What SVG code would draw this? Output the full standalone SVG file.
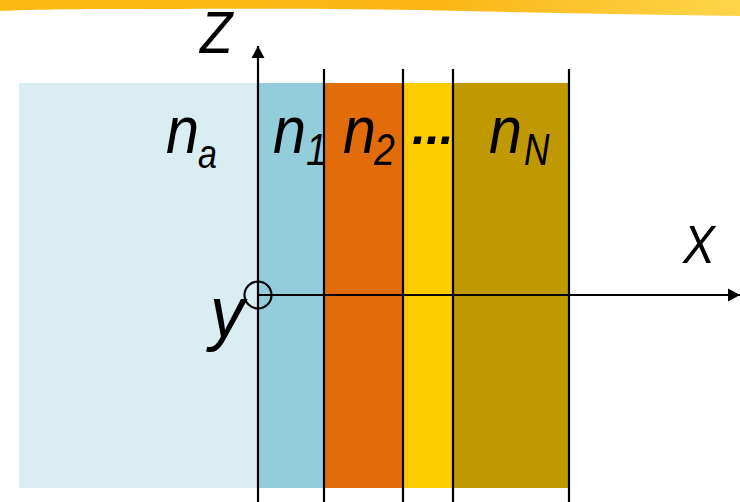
<svg xmlns="http://www.w3.org/2000/svg" width="740" height="502" viewBox="0 0 740 502">
<defs>
<linearGradient id="band" x1="0" y1="0" x2="1" y2="0">
<stop offset="0" stop-color="#FDB913"/>
<stop offset="0.6" stop-color="#FBB616"/>
<stop offset="1" stop-color="#FDD54A"/>
</linearGradient>
<marker id="arr" viewBox="0 0 12 14" refX="12" refY="7" markerWidth="12" markerHeight="14" markerUnits="userSpaceOnUse" orient="auto">
<path d="M0,0.5 L12,7 L0,13.5 z" fill="#000"/>
</marker>
</defs>
<style>
.t{font-family:"Liberation Sans",Arial,sans-serif;font-style:italic;fill:#000}
.b{stroke:#000;stroke-width:2.2;fill:none}
</style>
<path d="M0,0 H740 V16 C600,14 500,12 420,10 C300,8 200,9 120,9 C60,9 20,10 0,11 z" fill="url(#band)"/>
<g id="layers">
<rect id="layer-a" x="19" y="83" width="239" height="405" fill="#DAEDF3"/>
<rect id="layer-1" x="258" y="83" width="66" height="405" fill="#93CDDB"/>
<rect id="layer-2" x="324" y="83" width="79" height="405" fill="#E36C0A"/>
<rect id="layer-dots" x="403" y="83" width="50" height="405" fill="#FFCC00"/>
<rect id="layer-N" x="453" y="83" width="116" height="405" fill="#C09900"/>
</g>
<g id="connectors">
<line class="b" x1="324" y1="69" x2="324" y2="502"/>
<line class="b" x1="403" y1="69" x2="403" y2="502"/>
<line class="b" x1="453" y1="69" x2="453" y2="502"/>
<line class="b" x1="569" y1="69" x2="569" y2="502"/>
<line class="b" x1="258" y1="502" x2="258" y2="46" marker-end="url(#arr)"/>
<line class="b" x1="258" y1="295" x2="740" y2="295" marker-end="url(#arr)"/>
<circle class="b" cx="258" cy="295" r="13.5"/>
</g>
<g id="labels">
<text class="t" transform="translate(200,53) scale(0.9,1)" font-size="59">Z</text>
<text class="t" transform="translate(683,263) scale(0.9,1)" font-size="53">X</text>
<text class="t" transform="translate(210,337) scale(0.95,1)" font-size="72">y</text>
<text class="t" transform="translate(166,153) scale(0.9,1)" font-size="66">n</text>
<text class="t" transform="translate(198,168) scale(0.85,1)" font-size="40">a</text>
<text class="t" transform="translate(273,153) scale(0.9,1)" font-size="66">n</text>
<text class="t" transform="translate(306,165) scale(0.85,1)" font-size="44">1</text>
<text class="t" transform="translate(343,153) scale(0.9,1)" font-size="66">n</text>
<text class="t" transform="translate(374,165) scale(0.85,1)" font-size="44">2</text>
<text class="t" x="412" y="144" font-size="50" font-weight="bold">...</text>
<text class="t" transform="translate(489,153) scale(0.9,1)" font-size="66">n</text>
<text class="t" transform="translate(524,165) scale(0.8,1)" font-size="44">N</text>
</g>
</svg>
